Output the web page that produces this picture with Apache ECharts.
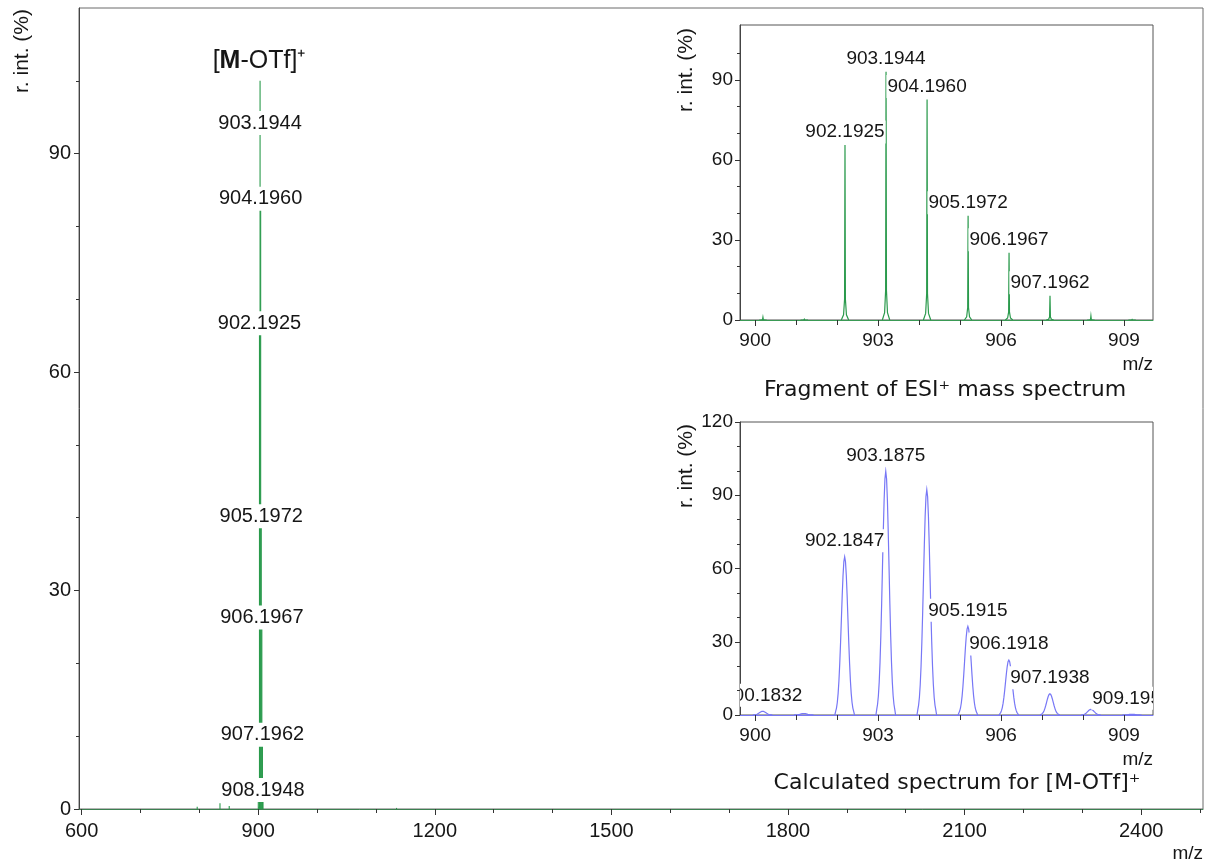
<!DOCTYPE html>
<html>
<head>
<meta charset="utf-8">
<title>ESI+ mass spectrum of [M-OTf]+</title>
<script src="https://cdn.jsdelivr.net/npm/echarts@6/dist/echarts.min.js"></script>
<style>
  html, body { margin: 0; padding: 0; background: #fff; }
  #chart { width: 1205px; height: 865px; }
</style>
</head>
<body>
<div id="chart"></div>
<script>
// ---- full ESI+ spectrum (m/z, relative intensity, %) ----
const fullMz  = [796.4, 835.1, 850.8, 900.19, 901.20, 902.1925, 903.1944, 904.1960, 905.1972, 906.1967, 907.1962, 908.1948, 1135.0];
const fullInt = [0.3, 0.8, 0.4, 1.0, 0.3, 66.5, 100, 83.0, 40.0, 27.0, 11.0, 3.0, 0.15];

// ---- fragment of the ESI+ spectrum, m/z 900-910 ----
const expMz  = [900.19, 901.20, 902.1925, 903.1944, 904.1960, 905.1972, 906.1967, 907.1962, 908.1948, 909.20];
const expInt = [1.0, 0.3, 65.6, 93.1, 82.7, 39.1, 25.2, 9.1, 1.5, 0.2];
const mainLabelled  = [903.1944, 904.1960, 902.1925, 905.1972, 906.1967, 907.1962, 908.1948];
const insetLabelled = [902.1925, 903.1944, 904.1960, 905.1972, 906.1967, 907.1962];

// ---- calculated isotope pattern for [M-OTf]+ ----
const calcMz  = [900.1832, 901.1860, 902.1847, 903.1875, 904.1890, 905.1915, 906.1918, 907.1938, 908.1950, 909.1952];
const calcInt = [1.5, 0.6, 64.8, 99.8, 92.3, 36.3, 22.5, 8.7, 2.3, 0.3];
const calcLabelled = [900.1832, 902.1847, 903.1875, 905.1915, 906.1918, 907.1938, 909.1952];

// ---- axis ticks ----
const mainXTicks = [600, 900, 1200, 1500, 1800, 2100, 2400];
const mainXMinor = [700, 800, 1000, 1100, 1300, 1400, 1600, 1700, 1900, 2000, 2200, 2300, 2500];
const mainYTicks = [0, 30, 60, 90];
const mainYMinor = [10, 20, 40, 50, 70, 80, 100];
const insetXTicks = [900, 903, 906, 909];
const insetXMinor = [901, 902, 904, 905, 907, 908];
const expYTicks = [0, 30, 60, 90];
const expYMinor = [10, 20, 40, 50, 70, 80, 100];
const calcYTicks = [0, 30, 60, 90, 120];
const calcYMinor = [10, 20, 40, 50, 70, 80, 100, 110];

// ---- styling ----
const GREEN = '#2a9a4c';
const BLUE = '#7777f6';
const TEXT = '#161616';
const SANS = '"Liberation Sans", Arial, sans-serif';
const DEJAVU = '"DejaVu Sans", sans-serif';

// peak outlines: [m/z offset, fraction of peak height]
const SPIKE = [[-0.09, 0], [-0.035, 0.03], [-0.01, 0.12], [0, 1], [0.01, 0.12], [0.035, 0.03], [0.09, 0]];
const GAUSS = [[-0.24, 0], [-0.22, 0.023], [-0.2, 0.044], [-0.18, 0.079], [-0.16, 0.135], [-0.14, 0.216],
  [-0.12, 0.325], [-0.1, 0.458], [-0.08, 0.607], [-0.06, 0.755], [-0.04, 0.882], [-0.02, 0.969], [0, 1],
  [0.02, 0.969], [0.04, 0.882], [0.06, 0.755], [0.08, 0.607], [0.1, 0.458], [0.12, 0.325], [0.14, 0.216],
  [0.16, 0.135], [0.18, 0.079], [0.2, 0.044], [0.22, 0.023], [0.24, 0]];

const pairs = (xs, ys) => xs.map((x, i) => [x, ys[i]]);
const labelPoints = (list, xs, ys) => list.map(mz => [mz, ys[xs.indexOf(mz)]]);

function stickItem(color, width) {
  return function (params, api) {
    const base = api.coord([api.value(0), 0]);
    const top = api.coord([api.value(0), api.value(1)]);
    return { type: 'line', shape: { x1: base[0], y1: base[1], x2: top[0], y2: top[1] },
      style: { stroke: color, lineWidth: width } };
  };
}

function profileItem(profile, color, width) {
  return function (params, api) {
    const mz = api.value(0), h = api.value(1);
    const pts = profile.map(p => api.coord([mz + p[0], h * p[1]]));
    return { type: 'polyline', shape: { points: pts },
      style: { stroke: color, lineWidth: width, fill: 'none' } };
  };
}

function labelItem(lift, size) {
  return function (params, api) {
    const p = api.coord([api.value(0), api.value(1)]);
    return { type: 'text', x: p[0], y: p[1] - lift,
      style: { text: api.value(0).toFixed(4), fontSize: size, fontFamily: SANS, fill: TEXT,
        align: 'center', verticalAlign: 'middle', textAlign: 'center', textVerticalAlign: 'middle',
        backgroundColor: '#fff', padding: [2, 1] } };
  };
}

function valueAxis(grid, pos, min, max, ticks, lineColor, tickLen, showLabels, margin, fontSize) {
  return {
    type: 'value', gridIndex: grid, position: pos, min: min, max: max,
    axisLine: { show: lineColor !== null, onZero: false, lineStyle: { color: lineColor || '#000', width: 1 } },
    axisTick: { show: true, length: tickLen, customValues: ticks, lineStyle: { color: '#333' } },
    axisLabel: { show: showLabels, customValues: ticks, fontSize: fontSize || 19, fontFamily: SANS,
      color: TEXT, margin: margin, formatter: v => String(v) },
    splitLine: { show: false }
  };
}

const chart = echarts.init(document.getElementById('chart'), null, { renderer: 'canvas' });

function yName(x, y) {
  return { type: 'text', x: x, y: y, rotation: Math.PI / 2, z: 10,
    style: { text: 'r. int. (%)', fontSize: 21, fontFamily: SANS, fill: TEXT,
      align: 'right', verticalAlign: 'middle', textAlign: 'right', textVerticalAlign: 'middle' } };
}
function mzName(x, y) {
  return { type: 'text', x: x, y: y, z: 10,
    style: { text: 'm/z', fontSize: 19, fontFamily: SANS, fill: TEXT,
      align: 'right', verticalAlign: 'middle', textAlign: 'right', textVerticalAlign: 'middle' } };
}
function caption(x, y, text) {
  return { type: 'text', x: x, y: y, z: 10,
    style: { text: text, fontSize: 22, fontFamily: DEJAVU, fill: TEXT,
      align: 'center', verticalAlign: 'middle', textAlign: 'center', textVerticalAlign: 'middle' } };
}

chart.setOption({
  animation: false,
  backgroundColor: '#fff',
  grid: [
    { left: 79, top: 8, right: 2, bottom: 56, show: true, borderColor: '#6a6a6a', borderWidth: 1, backgroundColor: 'transparent' },
    { left: 740, top: 25, right: 52, height: 295, show: true, borderColor: '#555', borderWidth: 1, backgroundColor: '#fff' },
    { left: 740, top: 422, right: 52, height: 293, show: true, borderColor: '#555', borderWidth: 1, backgroundColor: '#fff' }
  ],
  xAxis: [
    valueAxis(0, 'bottom', 595.6, 2505, mainXTicks, '#3c8050', 6, true, 12, 20),
    valueAxis(0, 'bottom', 595.6, 2505, mainXMinor, null, 4, false, 12),
    valueAxis(1, 'bottom', 899.63, 909.71, insetXTicks, '#3a9a55', 6, true, 11),
    valueAxis(1, 'bottom', 899.63, 909.71, insetXMinor, null, 5, false, 11),
    valueAxis(2, 'bottom', 899.63, 909.71, insetXTicks, BLUE, 6, true, 11),
    valueAxis(2, 'bottom', 899.63, 909.71, insetXMinor, null, 5, false, 11)
  ],
  yAxis: [
    valueAxis(0, 'left', 0, 110, mainYTicks, '#444', 5, true, 8, 20),
    valueAxis(0, 'left', 0, 110, mainYMinor, null, 3, false, 8),
    valueAxis(1, 'left', 0, 110.6, expYTicks, '#444', 5, true, 7),
    valueAxis(1, 'left', 0, 110.6, expYMinor, null, 3, false, 7),
    valueAxis(2, 'left', 0, 120, calcYTicks, '#444', 5, true, 7),
    valueAxis(2, 'left', 0, 120, calcYMinor, null, 3, false, 7)
  ],
  series: [
    { type: 'custom', name: 'ESI+ spectrum', xAxisIndex: 0, yAxisIndex: 0, clip: true, z: 3,
      data: pairs(fullMz, fullInt), renderItem: stickItem(GREEN, 1.1) },
    { type: 'custom', name: 'ESI+ peak labels', xAxisIndex: 0, yAxisIndex: 0, clip: false, z: 5,
      data: labelPoints(mainLabelled, expMz, expInt), renderItem: labelItem(8, 20) },

    { type: 'custom', name: 'ESI+ fragment', xAxisIndex: 2, yAxisIndex: 2, clip: true, z: 3,
      data: pairs(expMz, expInt), renderItem: profileItem(SPIKE, GREEN, 1.2) },
    { type: 'custom', name: 'ESI+ fragment labels', xAxisIndex: 2, yAxisIndex: 2, clip: true, z: 5,
      data: labelPoints(insetLabelled, expMz, expInt), renderItem: labelItem(13, 19) },

    { type: 'custom', name: 'Calculated', xAxisIndex: 4, yAxisIndex: 4, clip: true, z: 3,
      data: pairs(calcMz, calcInt), renderItem: profileItem(GAUSS, BLUE, 1.2) },
    { type: 'custom', name: 'Calculated labels', xAxisIndex: 4, yAxisIndex: 4, clip: true, z: 5,
      data: labelPoints(calcLabelled, calcMz, calcInt), renderItem: labelItem(16, 19) }
  ],
  graphic: [
    yName(22, 9), yName(686, 28), yName(686, 424),
    mzName(1203, 854), mzName(1153, 365), mzName(1153, 760),
    caption(945, 390, 'Fragment of ESI⁺ mass spectrum'),
    caption(957, 783, 'Calculated spectrum for [M-OTf]⁺'),
    { type: 'text', x: 259, y: 61, z: 10,
      style: { text: '[{b|M}-OTf]⁺', fontSize: 25, fontFamily: SANS, fill: TEXT,
        rich: { b: { fontWeight: 'bold', fontSize: 25, fontFamily: SANS, fill: TEXT } },
        align: 'center', verticalAlign: 'middle', textAlign: 'center', textVerticalAlign: 'middle' } }
  ]
});
</script>
</body>
</html>
